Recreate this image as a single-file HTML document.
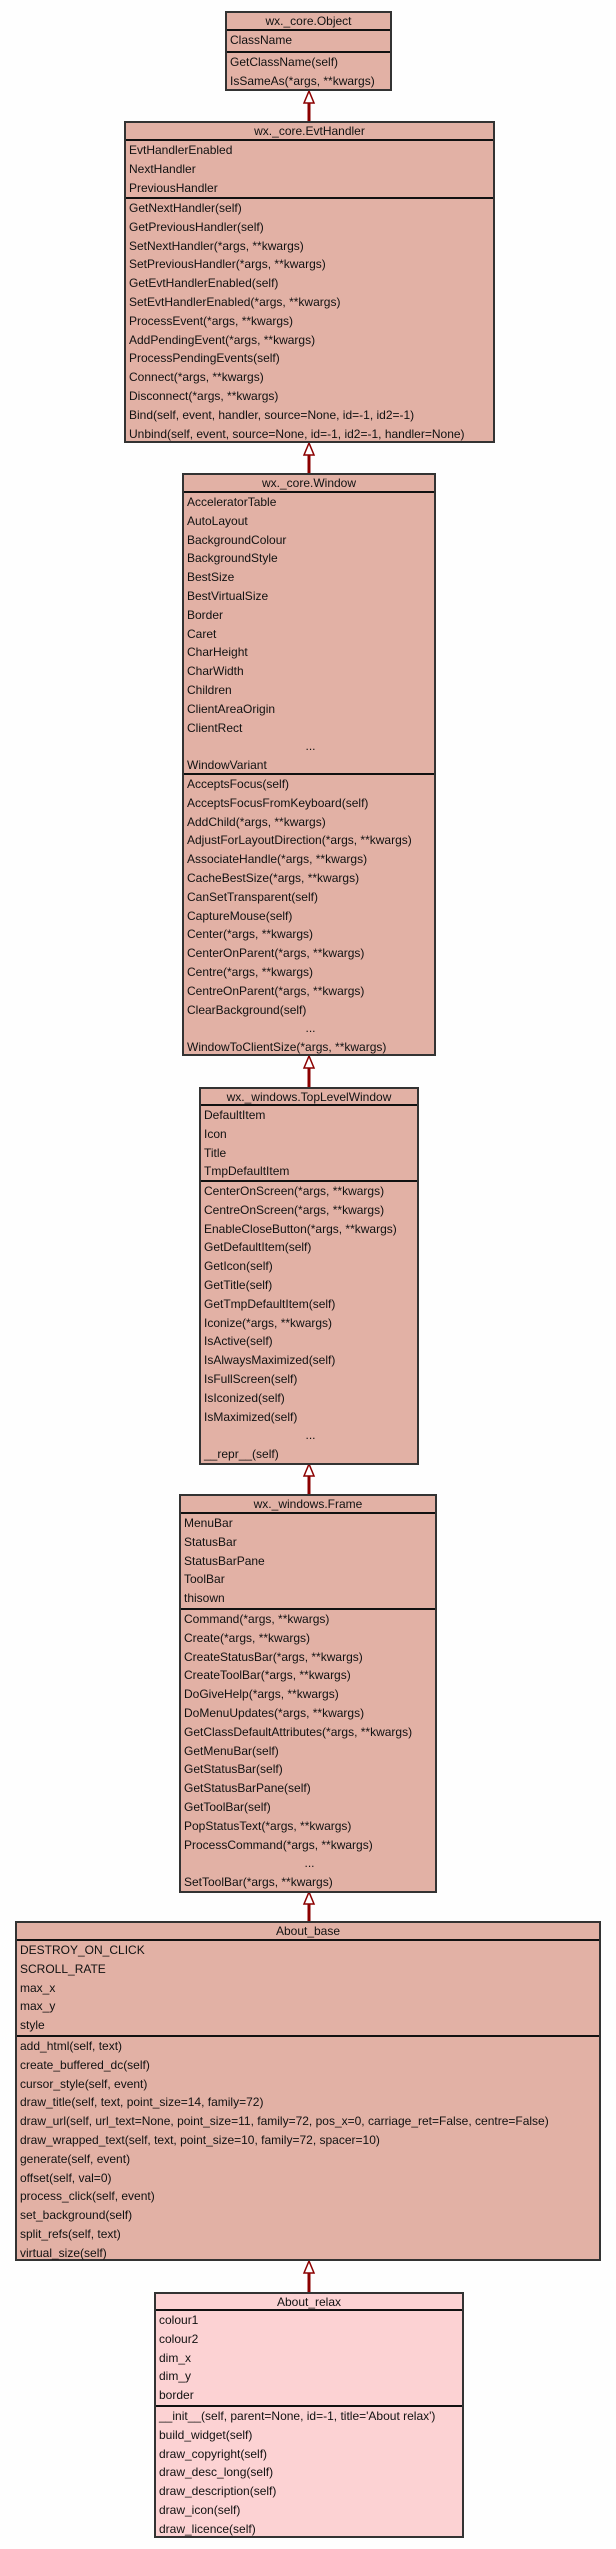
<!DOCTYPE html>
<html><head><meta charset="utf-8"><style>
html,body{margin:0;padding:0;background:#fefefe;width:616px;height:2549px;position:relative;overflow:hidden}
.b{position:absolute;box-sizing:border-box;border:2px solid #333;background:#e2b1a5;font-family:"Liberation Sans",Arial,sans-serif;font-size:12px;color:#111}
.r{background:#fcd2d3}
.t{text-align:center;line-height:16px;box-sizing:border-box}
.c{box-sizing:border-box;border-top:2px solid #111;padding-left:3px;white-space:nowrap}
.c div{height:18.8px;line-height:18px}
.d{text-align:center}
svg{position:absolute;left:0;top:0}
</style></head><body>
<svg width="616" height="2549">
<g stroke="#8b0000" fill="#fff">
<line x1="309" y1="101" x2="309" y2="121" stroke-width="3"/><polygon points="309,91 304,103 314,103" stroke-width="1.5"/>
<line x1="309" y1="453" x2="309" y2="473" stroke-width="3"/><polygon points="309,443 304,455 314,455" stroke-width="1.5"/>
<line x1="309" y1="1066" x2="309" y2="1087" stroke-width="3"/><polygon points="309,1056 304,1068 314,1068" stroke-width="1.5"/>
<line x1="309" y1="1474" x2="309" y2="1494" stroke-width="3"/><polygon points="309,1464 304,1476 314,1476" stroke-width="1.5"/>
<line x1="309" y1="1902" x2="309" y2="1921" stroke-width="3"/><polygon points="309,1892 304,1904 314,1904" stroke-width="1.5"/>
<line x1="309" y1="2271" x2="309" y2="2292" stroke-width="3"/><polygon points="309,2261 304,2273 314,2273" stroke-width="1.5"/>
</g></svg>

<div class="b" style="left:225px;top:11px;width:167px;height:80px">
<div class="t" style="height:16px">wx._core.Object</div>
<div class="c" style="height:22px"><div>ClassName</div></div>
<div class="c"><div>GetClassName(self)</div><div>IsSameAs(*args, **kwargs)</div></div>
</div>

<div class="b" style="left:124px;top:121px;width:371px;height:322px">
<div class="t" style="height:16px">wx._core.EvtHandler</div>
<div class="c" style="height:58px"><div>EvtHandlerEnabled</div><div>NextHandler</div><div>PreviousHandler</div></div>
<div class="c"><div>GetNextHandler(self)</div><div>GetPreviousHandler(self)</div><div>SetNextHandler(*args, **kwargs)</div><div>SetPreviousHandler(*args, **kwargs)</div><div>GetEvtHandlerEnabled(self)</div><div>SetEvtHandlerEnabled(*args, **kwargs)</div><div>ProcessEvent(*args, **kwargs)</div><div>AddPendingEvent(*args, **kwargs)</div><div>ProcessPendingEvents(self)</div><div>Connect(*args, **kwargs)</div><div>Disconnect(*args, **kwargs)</div><div>Bind(self, event, handler, source=None, id=-1, id2=-1)</div><div>Unbind(self, event, source=None, id=-1, id2=-1, handler=None)</div></div>
</div>

<div class="b" style="left:182px;top:473px;width:254px;height:583px">
<div class="t" style="height:16px">wx._core.Window</div>
<div class="c" style="height:282px"><div>AcceleratorTable</div><div>AutoLayout</div><div>BackgroundColour</div><div>BackgroundStyle</div><div>BestSize</div><div>BestVirtualSize</div><div>Border</div><div>Caret</div><div>CharHeight</div><div>CharWidth</div><div>Children</div><div>ClientAreaOrigin</div><div>ClientRect</div><div class="d">...</div><div>WindowVariant</div></div>
<div class="c"><div>AcceptsFocus(self)</div><div>AcceptsFocusFromKeyboard(self)</div><div>AddChild(*args, **kwargs)</div><div>AdjustForLayoutDirection(*args, **kwargs)</div><div>AssociateHandle(*args, **kwargs)</div><div>CacheBestSize(*args, **kwargs)</div><div>CanSetTransparent(self)</div><div>CaptureMouse(self)</div><div>Center(*args, **kwargs)</div><div>CenterOnParent(*args, **kwargs)</div><div>Centre(*args, **kwargs)</div><div>CentreOnParent(*args, **kwargs)</div><div>ClearBackground(self)</div><div class="d">...</div><div>WindowToClientSize(*args, **kwargs)</div></div>
</div>

<div class="b" style="left:199px;top:1087px;width:220px;height:378px">
<div class="t" style="height:15px">wx._windows.TopLevelWindow</div>
<div class="c" style="height:76px"><div>DefaultItem</div><div>Icon</div><div>Title</div><div>TmpDefaultItem</div></div>
<div class="c"><div>CenterOnScreen(*args, **kwargs)</div><div>CentreOnScreen(*args, **kwargs)</div><div>EnableCloseButton(*args, **kwargs)</div><div>GetDefaultItem(self)</div><div>GetIcon(self)</div><div>GetTitle(self)</div><div>GetTmpDefaultItem(self)</div><div>Iconize(*args, **kwargs)</div><div>IsActive(self)</div><div>IsAlwaysMaximized(self)</div><div>IsFullScreen(self)</div><div>IsIconized(self)</div><div>IsMaximized(self)</div><div class="d">...</div><div>__repr__(self)</div></div>
</div>

<div class="b" style="left:179px;top:1494px;width:258px;height:399px">
<div class="t" style="height:16px">wx._windows.Frame</div>
<div class="c" style="height:96px"><div>MenuBar</div><div>StatusBar</div><div>StatusBarPane</div><div>ToolBar</div><div>thisown</div></div>
<div class="c"><div>Command(*args, **kwargs)</div><div>Create(*args, **kwargs)</div><div>CreateStatusBar(*args, **kwargs)</div><div>CreateToolBar(*args, **kwargs)</div><div>DoGiveHelp(*args, **kwargs)</div><div>DoMenuUpdates(*args, **kwargs)</div><div>GetClassDefaultAttributes(*args, **kwargs)</div><div>GetMenuBar(self)</div><div>GetStatusBar(self)</div><div>GetStatusBarPane(self)</div><div>GetToolBar(self)</div><div>PopStatusText(*args, **kwargs)</div><div>ProcessCommand(*args, **kwargs)</div><div class="d">...</div><div>SetToolBar(*args, **kwargs)</div></div>
</div>

<div class="b" style="left:15px;top:1921px;width:586px;height:340px">
<div class="t" style="height:16px">About_base</div>
<div class="c" style="height:96px"><div>DESTROY_ON_CLICK</div><div>SCROLL_RATE</div><div>max_x</div><div>max_y</div><div>style</div></div>
<div class="c"><div>add_html(self, text)</div><div>create_buffered_dc(self)</div><div>cursor_style(self, event)</div><div>draw_title(self, text, point_size=14, family=72)</div><div>draw_url(self, url_text=None, point_size=11, family=72, pos_x=0, carriage_ret=False, centre=False)</div><div>draw_wrapped_text(self, text, point_size=10, family=72, spacer=10)</div><div>generate(self, event)</div><div>offset(self, val=0)</div><div>process_click(self, event)</div><div>set_background(self)</div><div>split_refs(self, text)</div><div>virtual_size(self)</div></div>
</div>

<div class="b r" style="left:154px;top:2292px;width:310px;height:246px">
<div class="t" style="height:15px">About_relax</div>
<div class="c" style="height:96px"><div>colour1</div><div>colour2</div><div>dim_x</div><div>dim_y</div><div>border</div></div>
<div class="c"><div>__init__(self, parent=None, id=-1, title='About relax')</div><div>build_widget(self)</div><div>draw_copyright(self)</div><div>draw_desc_long(self)</div><div>draw_description(self)</div><div>draw_icon(self)</div><div>draw_licence(self)</div></div>
</div>
</body></html>
